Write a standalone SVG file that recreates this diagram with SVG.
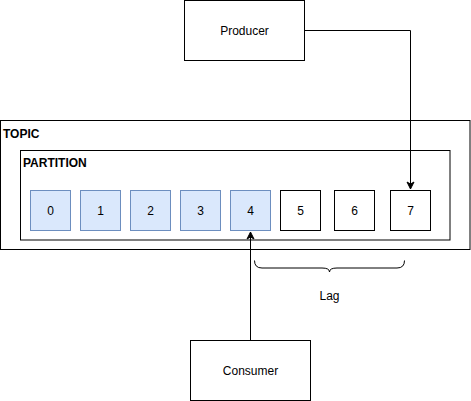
<svg xmlns="http://www.w3.org/2000/svg" width="471" height="401" viewBox="0 0 471 401">
<style>
.box{fill:#fff;stroke:#000;stroke-width:1}
.cons{fill:#dae8fc;stroke:#6c8ebf;stroke-width:1}
.t{font-family:"Liberation Sans",Arial,sans-serif;font-size:12px;fill:#000;text-anchor:middle;dominant-baseline:central}
.b{font-family:"Liberation Sans",Arial,sans-serif;font-size:12px;font-weight:bold;fill:#000}
.ln{fill:none;stroke:#000;stroke-width:1}
</style>
<defs>
<marker id="arr" markerWidth="10" markerHeight="10" refX="8" refY="5" orient="auto" markerUnits="userSpaceOnUse">
<path d="M1,1.5 L8,5 L1,8.5 L3,5 Z" fill="#000" stroke="#000"/>
</marker>
</defs>
<g id="topic"><rect class="box" x="0.5" y="120.5" width="469.5" height="129"/><text class="b" x="3" y="138">TOPIC</text></g>
<g id="partition"><rect class="box" x="20.5" y="150.5" width="429.5" height="89.5"/><text class="b" x="23" y="167">PARTITION</text></g>
<g id="m0"><rect class="cons" x="30.5" y="190.5" width="40" height="40"/><text class="t" x="50.5" y="210.5">0</text></g>
<g id="m1"><rect class="cons" x="80.5" y="190.5" width="40" height="40"/><text class="t" x="100.5" y="210.5">1</text></g>
<g id="m2"><rect class="cons" x="130.5" y="190.5" width="40" height="40"/><text class="t" x="150.5" y="210.5">2</text></g>
<g id="m3"><rect class="cons" x="180.5" y="190.5" width="40" height="40"/><text class="t" x="200.5" y="210.5">3</text></g>
<g id="m4"><rect class="cons" x="230.5" y="190.5" width="40" height="40"/><text class="t" x="250.5" y="210.5">4</text></g>
<g id="m5"><rect class="box" x="280.5" y="190.5" width="40" height="40"/><text class="t" x="300.5" y="210.5">5</text></g>
<g id="m6"><rect class="box" x="334.5" y="190.5" width="40" height="40"/><text class="t" x="354.5" y="210.5">6</text></g>
<g id="m7"><rect class="box" x="390.5" y="190.5" width="40" height="40"/><text class="t" x="410.5" y="210.5">7</text></g>
<g id="producer"><rect class="box" x="184.5" y="0.5" width="120" height="60"/><text class="t" x="244.5" y="30.5">Producer</text></g>
<g id="consumer"><rect class="box" x="190.5" y="340.5" width="120" height="60"/><text class="t" x="250.5" y="370.5">Consumer</text></g>
<g id="lag"><path class="ln" d="M254.5,260.5 Q254.5,268 262,268 L322,268 Q329.5,268 329.5,272 Q329.5,268 337,268 L397,268 Q404.5,268 404.5,260.5"/><text class="t" x="329.5" y="295.5">Lag</text></g>
<g id="connectors">
<path class="ln" d="M304.5,30.5 L410.5,30.5 L410.5,189" marker-end="url(#arr)"/>
<path class="ln" d="M250.5,340.5 L250.5,232" marker-end="url(#arr)"/>
</g>
</svg>
